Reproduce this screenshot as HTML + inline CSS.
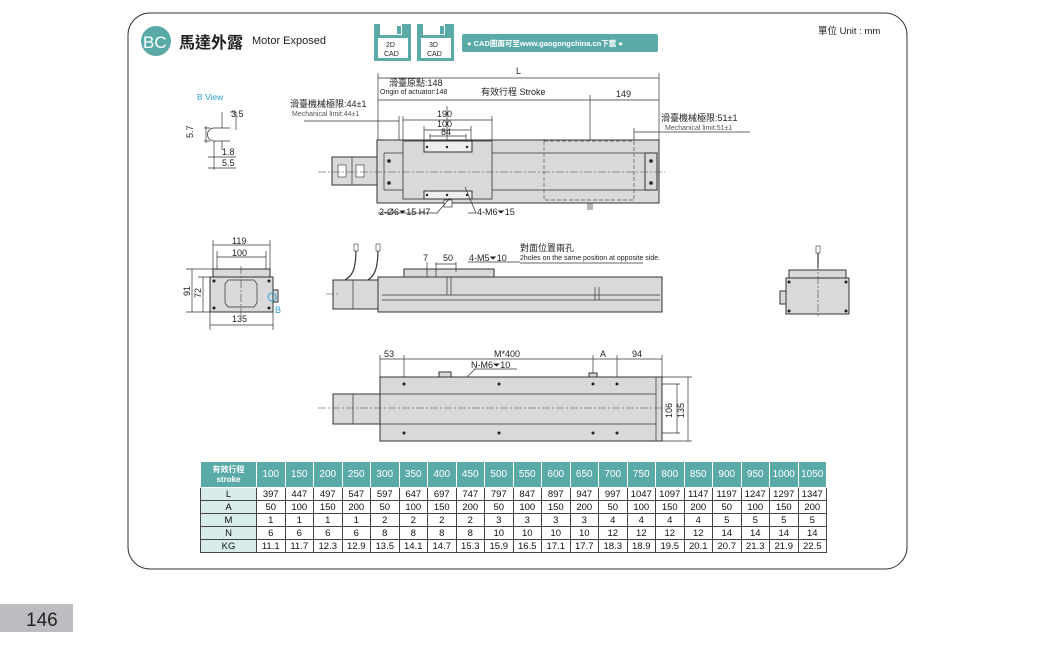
<!DOCTYPE html>
<html><head><meta charset="utf-8"><style>
html,body{margin:0;padding:0;background:#fff;}
body{width:1038px;height:646px;overflow:hidden;position:relative;font-family:"Liberation Sans","Noto Sans CJK TC",sans-serif;}
svg{position:absolute;left:0;top:0;}
text{font-family:"Liberation Sans","Noto Sans CJK TC",sans-serif;fill:#222;}
.d{stroke:#333;stroke-width:0.7;fill:none;}
.b{fill:#d9d9db;stroke:#333;stroke-width:1;}
.c{stroke:#444;stroke-width:0.6;stroke-dasharray:8 2 2 2;fill:none;}
.s{font-size:9px;}
.t{font-size:7px;}
table{position:absolute;left:200px;top:461px;border-collapse:collapse;font-size:9.5px;}
td{border:1px solid #444;text-align:center;padding:0;height:12px;width:27.5px;color:#111;}
tr.h td{background:#5aaba8;color:#fff;height:25px;border-color:#fff;font-size:10px;}
td.l{background:#d8ecea;width:55px;}
tr.h td.l{background:#5aaba8;font-size:8px;line-height:10px;font-weight:bold;}
</style></head><body>
<svg width="1038" height="646" viewBox="0 0 1038 646">
<rect x="128" y="13" width="779" height="556" rx="22" fill="none" stroke="#333" stroke-width="1"/>
<rect x="0" y="604" width="73" height="28" fill="#bcbdc0"/>
<text x="26" y="626" style="font-size:19px;fill:#222">146</text>
<!-- header -->
<circle cx="156" cy="41" r="15" fill="#5aaba8"/>
<text x="143" y="48" style="font-size:17px;fill:#fff">BC</text>
<text x="179" y="48" style="font-size:16px;font-weight:bold">馬達外露</text>
<text x="252" y="44" style="font-size:11px">Motor Exposed</text>
<g fill="#5aaba8"><rect x="374" y="24" width="37" height="37"/><rect x="417" y="24" width="37" height="37"/></g>
<g fill="#fff"><rect x="378" y="38" width="30" height="20"/><rect x="421" y="38" width="30" height="20"/><rect x="380" y="24" width="22" height="11"/><rect x="423" y="24" width="22" height="11"/></g>
<g fill="#5aaba8"><rect x="397" y="26" width="4" height="8"/><rect x="440" y="26" width="4" height="8"/></g>
<text x="386" y="47" class="t">2D</text><text x="384" y="56" class="t">CAD</text>
<text x="429" y="47" class="t">3D</text><text x="427" y="56" class="t">CAD</text>
<rect x="462" y="34" width="196" height="18" rx="2" fill="#5aaba8"/>
<text x="467" y="46" style="font-size:7.5px;font-weight:bold;fill:#fff">● CAD圖面可至www.gaogongchina.cn下載 ●</text>
<text x="818" y="34" style="font-size:9.5px">單位 Unit : mm</text>
<!-- B view -->
<text x="197" y="100" style="font-size:8.5px;fill:#2aa0d8">B  View</text>
<path class="d" d="M222 112 V128 M214 128 H230 M214 141 H230 M214 128 A6.5 6.5 0 0 0 214 141 M222 141 V150 M214 141 V165 M204 128 H210 M204 141 H210 M206 126 V143 M230 112 H236 V130 M208 157 H236 M208 168 H236 M214 150 V170"/>
<text x="231" y="117" class="s">3.5</text>
<text x="193" y="138" class="s" transform="rotate(-90 193 138)">5.7</text>
<text x="222" y="155" class="s">1.8</text><text x="222" y="166" class="s">5.5</text>
<!-- top view dims -->
<path class="d" d="M378 73 V140 M659 73 V140 M378 78 H659 M378 100 H590 M590 100 H659 M590 95 V210 M304 121 H399 M399 116 V140 M403 116 V140 M403 120 H492 M492 116 V140 M424 126 V145 M471 126 V145 M424 130 H471 M430 134 V145 M466 134 V145 M430 136 H466 M634 128 V140 M634 132 H659 M659 132 H750 M447 106 V200"/>
<text x="516" y="74" class="s">L</text>
<text x="389" y="86" class="s">滑臺原點:148</text>
<text x="380" y="94" class="t">Origin of actuator:148</text>
<text x="481" y="95" class="s">有效行程  Stroke</text>
<text x="616" y="97" class="s">149</text>
<text x="290" y="107" class="s">滑臺機械極限:44±1</text>
<text x="292" y="116" class="t" style="fill:#555">Mechanical limit:44±1</text>
<text x="437" y="117" class="s">190</text><text x="437" y="127" class="s">100</text><text x="441" y="135" class="s">84</text>
<text x="661" y="121" class="s">滑臺機械極限:51±1</text>
<text x="665" y="130" class="t" style="fill:#555">Mechanical limit:51±1</text>
<!-- top view body -->
<rect class="b" x="332" y="157" width="45" height="28"/>
<path class="d" d="M352 157 V185"/>
<rect x="338" y="165" width="8" height="12" fill="#fff" stroke="#333" stroke-width=".6"/><rect x="356" y="165" width="8" height="12" fill="#fff" stroke="#333" stroke-width=".6"/>
<rect class="b" x="377" y="140" width="282" height="63"/>
<path class="d" d="M384 153 H657 M384 190 H657 M384 153 V190 M657 153 V190"/>
<rect class="b" x="403" y="141" width="89" height="58" style="stroke-width:.8"/>
<rect class="b" x="424" y="141" width="48" height="11" style="fill:#eee"/>
<rect class="b" x="424" y="191" width="48" height="8" style="fill:#eee"/>
<rect class="b" x="645" y="153" width="12" height="37"/>
<rect x="544" y="141" width="90" height="59" fill="none" stroke="#555" stroke-width=".7" stroke-dasharray="4 2"/>
<g fill="#222"><circle cx="389" cy="161" r="1.8"/><circle cx="389" cy="183" r="1.8"/><circle cx="651" cy="161" r="1.8"/><circle cx="651" cy="183" r="1.8"/><circle cx="427" cy="147" r="1.2"/><circle cx="447" cy="147" r="1.2"/><circle cx="467" cy="147" r="1.2"/><circle cx="427" cy="195" r="1.2"/><circle cx="447" cy="195" r="1.2"/><circle cx="467" cy="195" r="1.2"/></g>
<path class="c" d="M318 172 H665"/>
<rect x="444" y="200" width="8" height="7" fill="#fff" stroke="#333" stroke-width=".7"/>
<path class="d" d="M588 203 V210 M592 203 V210 M378 213 H437 L450 198 M468 213 H476 L465 187"/>
<text x="379" y="215" class="s">2-Ø6⏷15 H7</text>
<text x="477" y="215" class="s">4-M6⏷15</text>
<!-- end view left -->
<path class="d" d="M213 240 V270 M270 240 V270 M213 245 H270 M217 251 V270 M266 251 V270 M217 257 H266 M210 312 V330 M273 312 V330 M210 325 H273 M186 269 H213 M186 312 H210 M192 269 V312 M198 277 H210 M203 277 V312"/>
<text x="232" y="244" class="s">119</text><text x="232" y="256" class="s">100</text><text x="232" y="322" class="s">135</text>
<text x="190" y="296" class="s" transform="rotate(-90 190 296)">91</text>
<text x="201" y="298" class="s" transform="rotate(-90 201 298)">72</text>
<rect class="b" x="210" y="277" width="63" height="35"/>
<rect class="b" x="213" y="269" width="57" height="8"/>
<path class="d" d="M228 280 H254 L257 284 V303 L254 307 H228 L225 303 V284 Z"/>
<rect class="b" x="273" y="290" width="5" height="12"/>
<circle cx="272" cy="297" r="4" fill="none" stroke="#2aa0d8" stroke-width="1"/>
<text x="275" y="313" style="font-size:9px;fill:#2aa0d8">B</text>
<path class="c" d="M241 266 V316"/>
<g fill="#222"><circle cx="214" cy="281" r="1.5"/><circle cx="269" cy="281" r="1.5"/><circle cx="214" cy="308" r="1.5"/><circle cx="269" cy="308" r="1.5"/></g>
<!-- side view -->
<path d="M356 249 C356 270 352 276 345 280 M378 249 C378 270 374 276 368 280" stroke="#333" stroke-width="1.2" fill="none"/>
<rect x="354" y="244" width="4" height="7" fill="#fff" stroke="#333" stroke-width=".6"/><rect x="376" y="244" width="4" height="7" fill="#fff" stroke="#333" stroke-width=".6"/>
<rect class="b" x="333" y="280" width="45" height="29"/><path class="d" d="M353 280 V309"/>
<rect class="b" x="378" y="277" width="284" height="35"/>
<path class="d" d="M382 295 H660 M382 300 H660"/>
<rect class="b" x="404" y="269" width="90" height="8"/>
<path class="d" d="M427 262 V277 M436 262 V277 M436 264 H456 M456 262 V272 M447 277 V295 M451 277 V295 M595 287 V300 M599 287 V300"/>
<text x="423" y="261" class="s">7</text><text x="443" y="261" class="s">50</text>
<text x="469" y="261" class="s">4-M5⏷10</text>
<text x="520" y="251" class="s">對面位置兩孔</text>
<text x="520" y="260" class="t">2holes on the same position at opposite side.</text>
<path class="d" d="M468 262 H520 M520 263 H643"/>
<path class="c" d="M326 294 H340"/>
<!-- right end view -->
<path d="M818 248 V268" stroke="#333" stroke-width="1.2"/><rect x="816" y="246" width="4" height="7" fill="#fff" stroke="#333" stroke-width=".6"/>
<rect class="b" x="786" y="278" width="63" height="36"/>
<rect class="b" x="789" y="270" width="57" height="8"/>
<rect class="b" x="780" y="291" width="6" height="13"/>
<path class="c" d="M818 262 V316"/>
<g fill="#222"><circle cx="789" cy="282" r="1.5"/><circle cx="846" cy="282" r="1.5"/><circle cx="789" cy="311" r="1.5"/><circle cx="846" cy="311" r="1.5"/></g>
<!-- bottom view -->
<path class="d" d="M380 355 V377 M404 355 V384 M593 355 V384 M617 355 V384 M662 355 V377 M380 359 H404 M404 359 H593 M593 359 H617 M617 359 H662 M474 369 H517 M475 369 L448 396 M617 384 H680 M662 377 H692 M662 441 H692 M617 433 H680 M677 384 V433 M688 377 V441"/>
<text x="384" y="357" class="s">53</text><text x="494" y="357" class="s">M*400</text><text x="600" y="357" class="s">A</text><text x="632" y="357" class="s">94</text>
<text x="471" y="368" class="s">N-M6⏷10</text>
<text x="672" y="418" class="s" transform="rotate(-90 672 418)">106</text>
<text x="684" y="418" class="s" transform="rotate(-90 684 418)">135</text>
<rect class="b" x="333" y="394" width="47" height="30"/><path class="d" d="M353 394 V424"/>
<rect class="b" x="380" y="377" width="282" height="64"/>
<path class="d" d="M380 394 H656 M380 424 H656 M656 377 V441"/>
<rect class="b" x="439" y="372" width="12" height="5"/><rect class="b" x="589" y="373" width="8" height="4"/>
<path class="c" d="M318 408 H665"/>
<g fill="#222"><circle cx="404" cy="384" r="1.5"/><circle cx="499" cy="384" r="1.5"/><circle cx="593" cy="384" r="1.5"/><circle cx="617" cy="384" r="1.5"/><circle cx="404" cy="433" r="1.5"/><circle cx="499" cy="433" r="1.5"/><circle cx="593" cy="433" r="1.5"/><circle cx="617" cy="433" r="1.5"/></g>
</svg>
<table>
<tr class="h"><td class="l">有效行程<br>stroke</td><td>100</td><td>150</td><td>200</td><td>250</td><td>300</td><td>350</td><td>400</td><td>450</td><td>500</td><td>550</td><td>600</td><td>650</td><td>700</td><td>750</td><td>800</td><td>850</td><td>900</td><td>950</td><td>1000</td><td>1050</td></tr>
<tr><td class="l">L</td><td>397</td><td>447</td><td>497</td><td>547</td><td>597</td><td>647</td><td>697</td><td>747</td><td>797</td><td>847</td><td>897</td><td>947</td><td>997</td><td>1047</td><td>1097</td><td>1147</td><td>1197</td><td>1247</td><td>1297</td><td>1347</td></tr>
<tr><td class="l">A</td><td>50</td><td>100</td><td>150</td><td>200</td><td>50</td><td>100</td><td>150</td><td>200</td><td>50</td><td>100</td><td>150</td><td>200</td><td>50</td><td>100</td><td>150</td><td>200</td><td>50</td><td>100</td><td>150</td><td>200</td></tr>
<tr><td class="l">M</td><td>1</td><td>1</td><td>1</td><td>1</td><td>2</td><td>2</td><td>2</td><td>2</td><td>3</td><td>3</td><td>3</td><td>3</td><td>4</td><td>4</td><td>4</td><td>4</td><td>5</td><td>5</td><td>5</td><td>5</td></tr>
<tr><td class="l">N</td><td>6</td><td>6</td><td>6</td><td>6</td><td>8</td><td>8</td><td>8</td><td>8</td><td>10</td><td>10</td><td>10</td><td>10</td><td>12</td><td>12</td><td>12</td><td>12</td><td>14</td><td>14</td><td>14</td><td>14</td></tr>
<tr><td class="l">KG</td><td>11.1</td><td>11.7</td><td>12.3</td><td>12.9</td><td>13.5</td><td>14.1</td><td>14.7</td><td>15.3</td><td>15.9</td><td>16.5</td><td>17.1</td><td>17.7</td><td>18.3</td><td>18.9</td><td>19.5</td><td>20.1</td><td>20.7</td><td>21.3</td><td>21.9</td><td>22.5</td></tr>
</table>
</body></html>
